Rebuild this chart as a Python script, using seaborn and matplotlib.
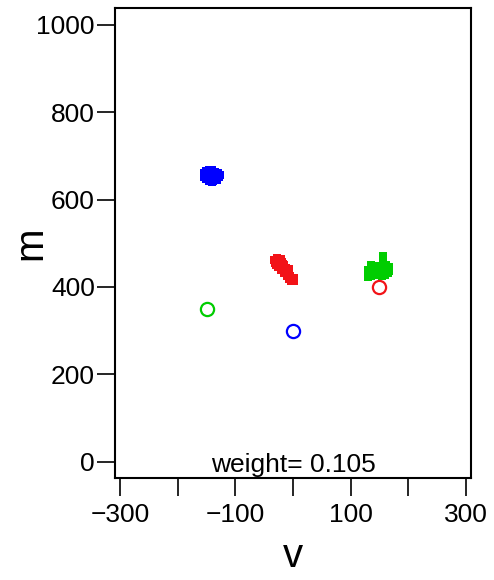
import matplotlib
matplotlib.use("Agg")
import matplotlib.pyplot as plt
import seaborn as sns
import pandas as pd
from matplotlib.ticker import FixedLocator

sns.set_style("ticks")
plt.rcParams["font.family"] = ["Liberation Sans", "DejaVu Sans"]
plt.rcParams["text.color"] = "black"
plt.rcParams["axes.labelcolor"] = "black"

# Posterior draws for each component (v, m)
blue_v = [-155, -150, -145, -140, -135, -130, -128, -132, -138, -145,
          -150, -155, -148, -140, -135, -143, -138, -150, -126, -140]
blue_m = [660, 665, 668, 667, 664, 660, 652, 646, 643, 642,
          648, 652, 655, 656, 652, 650, 660, 660, 656, 640]

red_v = [-33, -27, -21, -31, -25, -19, -29, -22, -16, -26, -19, -13,
         -21, -14, -10, -15, -9, -11, -5, -6, -2, -3, 1, 2, -17, -7]
red_m = [462, 466, 464, 456, 458, 457, 450, 451, 450, 445, 445, 443,
         439, 439, 436, 432, 431, 425, 425, 419, 419, 413, 413, 420, 452, 440]

green_v = [130, 130, 136, 136, 136, 142, 142, 142, 148, 148, 148, 154,
           154, 154, 160, 160, 160, 165, 165, 167, 156, 156, 156, 136, 162,
           130, 166]
green_m = [429, 438, 426, 435, 444, 427, 436, 446, 427, 436, 447, 426,
           436, 448, 427, 437, 447, 431, 441, 436, 455, 463, 471, 450, 450,
           424, 446]

# True component locations
true_v = [-150, 0, 150]
true_m = [350, 300, 400]
true_colors = ["#00CD00", "#0000FF", "#F21318"]

x_ticks = [-300, -200, -100, 0, 100, 200, 300]
x_ticklabels = ["\u2212300", "", "\u2212100", "", "100", "", "300"]
y_ticks = [0, 200, 400, 600, 800, 1000]
weight_text = "weight= 0.105"

draws = pd.concat([
    pd.DataFrame({"v": blue_v, "m": blue_m, "comp": "blue"}),
    pd.DataFrame({"v": red_v, "m": red_m, "comp": "red"}),
    pd.DataFrame({"v": green_v, "m": green_m, "comp": "green"}),
], ignore_index=True)

palette = {"blue": "#0000FF", "red": "#F21318", "green": "#00CD00"}

fig = plt.figure(figsize=(4.94, 5.80), dpi=100)
ax = fig.add_axes([0.2328, 0.1759, 0.7206, 0.8098])

sns.scatterplot(data=draws, x="v", y="m", hue="comp", palette=palette,
                marker="s", s=34, linewidth=0, legend=False, ax=ax)
for v, m, c in zip(true_v, true_m, true_colors):
    ax.plot([v], [m], marker="o", ms=9.5, mfc="none", mec=c, mew=1.6,
            linestyle="none")

ax.set_xlim(-308.7, 308.7)
ax.set_ylim(-37.3, 1038)
ax.xaxis.set_major_locator(FixedLocator(x_ticks))
ax.set_xticklabels(x_ticklabels)
ax.yaxis.set_major_locator(FixedLocator(y_ticks))
ax.set_yticklabels([str(t) for t in y_ticks])

for s in ax.spines.values():
    s.set_linewidth(1.5)
    s.set_color("black")
ax.tick_params(axis="both", direction="out", length=13, width=1.2,
               labelsize=19, colors="black", labelcolor="black")
ax.tick_params(axis="x", pad=5)
ax.tick_params(axis="y", pad=1.5)

ax.set_xlabel("v", fontsize=29)
ax.set_ylabel("m", fontsize=29)
ax.xaxis.set_label_coords(0.5, -0.125)
ax.yaxis.set_label_coords(-0.185, 0.5)

ax.text(0.5, 0.013, weight_text, transform=ax.transAxes, ha="center",
        va="baseline", fontsize=19, color="black")

fig.savefig("out.png", dpi=100)
